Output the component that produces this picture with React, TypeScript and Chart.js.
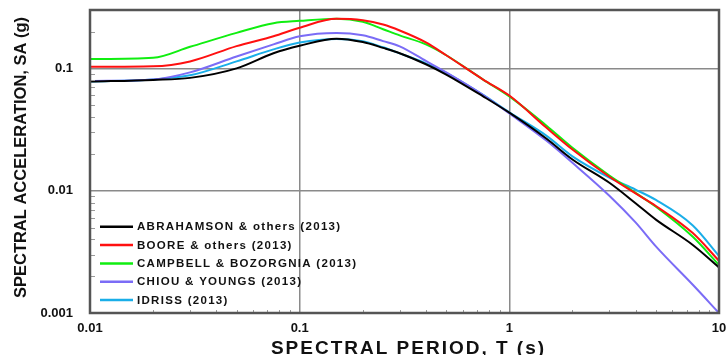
import React, { useEffect, useRef } from 'react';
import { Chart, registerables } from 'chart.js';

Chart.register(...registerables);

// Spectral periods (s)
const periods = [0.01, 0.02, 0.03, 0.05, 0.075, 0.1, 0.15, 0.2, 0.25, 0.3, 0.4, 0.5, 0.75, 1, 1.5, 2, 3, 4, 5, 7.5, 10];

// Spectral accelerations (g)
const abrahamson = [0.078, 0.0805, 0.0836, 0.1, 0.133, 0.153, 0.175, 0.164, 0.147, 0.133, 0.108, 0.089, 0.059, 0.0434, 0.0267, 0.018, 0.0116, 0.0079, 0.0058, 0.0036, 0.00236];
const boore = [0.103, 0.104, 0.114, 0.152, 0.183, 0.215, 0.254, 0.247, 0.228, 0.204, 0.163, 0.128, 0.081, 0.06, 0.0328, 0.0217, 0.013, 0.0095, 0.0075, 0.0045, 0.00267];
const campbell = [0.119, 0.122, 0.15, 0.195, 0.234, 0.2445, 0.255, 0.2405, 0.209, 0.186, 0.157, 0.128, 0.081, 0.059, 0.0341, 0.0224, 0.0133, 0.0096, 0.0074, 0.0042, 0.00247];
const chiou = [0.0787, 0.0812, 0.0927, 0.125, 0.157, 0.183, 0.195, 0.1865, 0.167, 0.1515, 0.115, 0.0927, 0.0606, 0.0428, 0.0257, 0.0169, 0.0091, 0.0055, 0.0035, 0.0017, 0.001];
const idriss = [0.0782, 0.0812, 0.0877, 0.114, 0.143, 0.1625, 0.174, 0.1665, 0.1486, 0.1327, 0.11, 0.0918, 0.0606, 0.0437, 0.0282, 0.0191, 0.0128, 0.0102, 0.0084, 0.0052, 0.00293];

const seriesNames = [
  'ABRAHAMSON & others (2013)',
  'BOORE & others (2013)',
  'CAMPBELL & BOZORGNIA (2013)',
  'CHIOU & YOUNGS (2013)',
  'IDRISS (2013)',
];
const seriesValues = [abrahamson, boore, campbell, chiou, idriss];
const seriesColors = ['#000000', '#ff1010', '#10ee10', '#7b6cf6', '#1aaee8'];

const xTickLabels = [0.01, 0.1, 1, 10];
const yTickLabels = [0.001, 0.01, 0.1];
const xTitle = 'SPECTRAL PERIOD, T (s)';
const yTitle = 'SPECTRAL ACCELERATION, SA (g)';

const FONT = "Arial, 'Liberation Sans', Helvetica, sans-serif";

const isMajor = (v: number) => Math.abs(Math.log10(v) - Math.round(Math.log10(v))) < 1e-6;
const findLabel = (list: number[], v: number) => list.find((t) => Math.abs(Math.log10(t) - Math.log10(v)) < 1e-6);

const setSpacing = (ctx: any, px: number) => {
  if ('letterSpacing' in ctx) ctx.letterSpacing = `${px}px`;
};

const framePlugin = {
  id: 'frameAndLegend',
  afterDraw(chart: any) {
    const { ctx, chartArea } = chart;
    const xs = chart.scales.x;
    const ys = chart.scales.y;
    ctx.save();
    // minor ticks (inward)
    ctx.strokeStyle = '#9a9a9a';
    ctx.lineWidth = 1;
    ctx.beginPath();
    for (let e = -3; e <= 0; e++) {
      for (let m = 2; m <= 9; m++) {
        const v = m * Math.pow(10, e);
        if (v <= ys.max) {
          const py = Math.round(ys.getPixelForValue(v)) + 0.5;
          ctx.moveTo(chartArea.left, py);
          ctx.lineTo(chartArea.left + 5, py);
        }
      }
    }
    for (let e = -2; e <= 0; e++) {
      for (let m = 2; m <= 9; m++) {
        const v = m * Math.pow(10, e);
        const px = Math.round(xs.getPixelForValue(v)) + 0.5;
        ctx.moveTo(px, chartArea.bottom);
        ctx.lineTo(px, chartArea.bottom - 3);
      }
    }
    ctx.stroke();
    // frame
    ctx.strokeStyle = '#555555';
    ctx.lineWidth = 2.5;
    ctx.strokeRect(chartArea.left, chartArea.top, chartArea.right - chartArea.left, chartArea.bottom - chartArea.top);

    // legend
    const n = chart.data.datasets.length;
    ctx.font = `bold 11.5px ${FONT}`;
    setSpacing(ctx, 1.3);
    ctx.textBaseline = 'middle';
    ctx.textAlign = 'left';
    chart.data.datasets.forEach((ds: any, i: number) => {
      const y = chartArea.bottom - 13 - (n - 1 - i) * 18.3;
      ctx.strokeStyle = ds.borderColor;
      ctx.lineWidth = 2.5;
      ctx.beginPath();
      ctx.moveTo(chartArea.left + 10, y);
      ctx.lineTo(chartArea.left + 43, y);
      ctx.stroke();
      ctx.fillStyle = '#111111';
      ctx.fillText(ds.label, chartArea.left + 47, y + 0.5);
    });

    // axis titles
    ctx.fillStyle = '#111111';
    ctx.font = `bold 19px ${FONT}`;
    setSpacing(ctx, 2);
    ctx.textAlign = 'center';
    ctx.textBaseline = 'alphabetic';
    ctx.fillText(xTitle, (chartArea.left + chartArea.right) / 2 + 4, 354);

    ctx.font = `bold 16.5px ${FONT}`;
    setSpacing(ctx, 0);
    ctx.textBaseline = 'middle';
    ctx.translate(21, 157.5);
    ctx.rotate(-Math.PI / 2);
    ctx.fillText(yTitle, 0, 0);
    ctx.restore();
  },
};

const zeroPad = (s: any) => {
  s.paddingTop = 0;
  s.paddingBottom = 0;
  s.paddingLeft = 0;
  s.paddingRight = 0;
};

export default function App() {
  const canvasRef = useRef<HTMLCanvasElement | null>(null);

  useEffect(() => {
    if (!canvasRef.current) return;
    const datasets = seriesNames.map((name, i) => ({
      label: name,
      data: periods.map((t, j) => ({ x: t, y: seriesValues[i][j] })),
      borderColor: seriesColors[i],
      backgroundColor: seriesColors[i],
      borderWidth: 2,
      pointRadius: 0,
      fill: false,
      cubicInterpolationMode: 'monotone' as const,
    }));

    const chart = new Chart(canvasRef.current, {
      type: 'line',
      data: { datasets },
      plugins: [framePlugin],
      options: {
        animation: false,
        responsive: false,
        layout: { padding: { top: 10, right: 9, left: 0, bottom: 0 } },
        plugins: {
          legend: { display: false },
          tooltip: { enabled: false },
        },
        scales: {
          x: {
            type: 'logarithmic',
            min: 0.01,
            max: 10,
            border: { display: false },
            grid: {
              drawTicks: false,
              color: (c: any) => (c.tick && isMajor(c.tick.value) ? '#8a8a8a' : 'transparent'),
              lineWidth: 1.5,
            },
            ticks: {
              autoSkip: false,
              maxRotation: 0,
              padding: 8,
              color: '#111111',
              font: { family: FONT, size: 13, weight: 'bold' },
              callback: (v: any) => {
                const t = findLabel(xTickLabels, Number(v));
                return t !== undefined ? String(t) : '';
              },
            },
            title: { display: false },
            afterFit: (s: any) => {
              s.height = 42;
              zeroPad(s);
            },
          },
          y: {
            type: 'logarithmic',
            min: 0.001,
            max: 0.3,
            border: { display: false },
            grid: {
              drawTicks: false,
              color: (c: any) => (c.tick && isMajor(c.tick.value) ? '#8a8a8a' : 'transparent'),
              lineWidth: 1.5,
            },
            ticks: {
              autoSkip: false,
              padding: 17,
              color: '#111111',
              font: { family: FONT, size: 13, weight: 'bold' },
              callback: (v: any) => {
                const t = findLabel(yTickLabels, Number(v));
                return t !== undefined ? String(t) : '';
              },
            },
            title: { display: false },
            afterFit: (s: any) => {
              s.width = 90;
              zeroPad(s);
            },
          },
        },
      } as any,
    });
    return () => chart.destroy();
  }, []);

  return (
    <div style={{ position: 'fixed', left: 0, top: 0, width: 728, height: 355, background: '#ffffff' }}>
      <canvas ref={canvasRef} width={728} height={355} />
    </div>
  );
}
